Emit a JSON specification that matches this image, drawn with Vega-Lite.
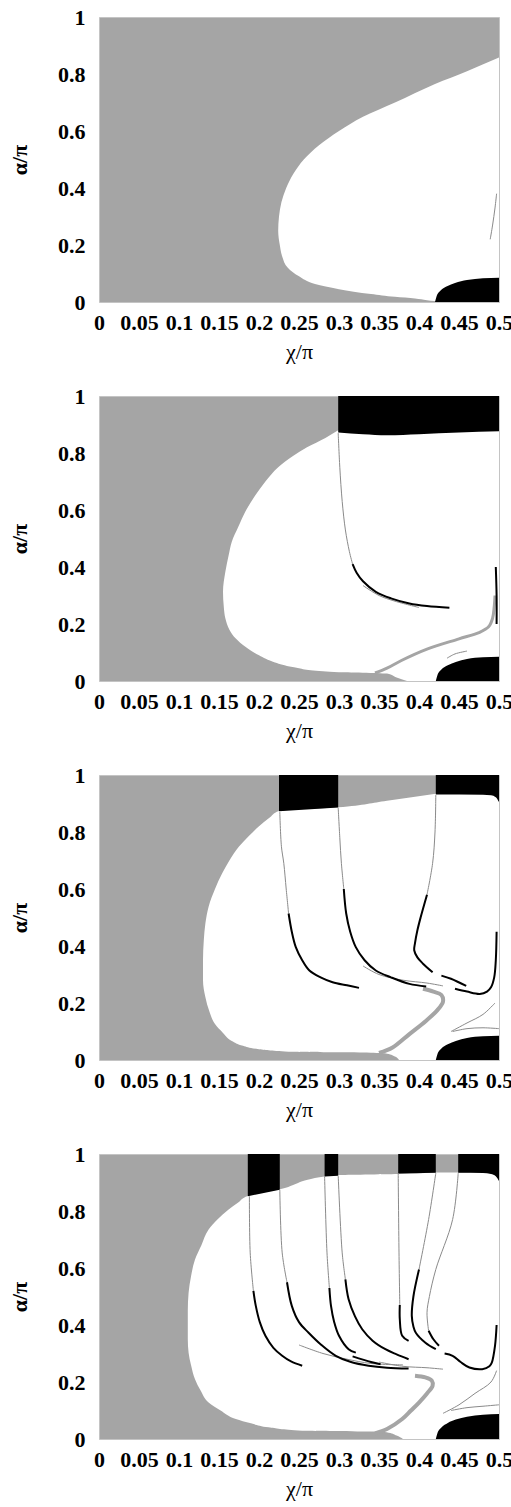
{
"$schema": "https://vega.github.io/schema/vega-lite/v6.json",
"padding": {"left": 8, "top": 5, "right": 2, "bottom": 2},
"data": {"values": [
{"p":1,"t":"w","y":0,"x":0.43},{"p":1,"t":"w","y":0.006,"x":0.41},{"p":1,"t":"w","y":0.012,"x":0.395},{"p":1,"t":"w","y":0.018,"x":0.37},{"p":1,"t":"w","y":0.028,"x":0.34},{"p":1,"t":"w","y":0.045,"x":0.3},{"p":1,"t":"w","y":0.063,"x":0.27},{"p":1,"t":"w","y":0.09,"x":0.25},{"p":1,"t":"w","y":0.12,"x":0.236},{"p":1,"t":"w","y":0.16,"x":0.229},{"p":1,"t":"w","y":0.2,"x":0.226},{"p":1,"t":"w","y":0.25,"x":0.224},{"p":1,"t":"w","y":0.3,"x":0.225},{"p":1,"t":"w","y":0.35,"x":0.228},{"p":1,"t":"w","y":0.4,"x":0.234},{"p":1,"t":"w","y":0.45,"x":0.243},{"p":1,"t":"w","y":0.5,"x":0.256},{"p":1,"t":"w","y":0.55,"x":0.275},{"p":1,"t":"w","y":0.6,"x":0.3},{"p":1,"t":"w","y":0.65,"x":0.33},{"p":1,"t":"w","y":0.7,"x":0.37},{"p":1,"t":"w","y":0.765,"x":0.42},{"p":1,"t":"w","y":0.81,"x":0.46},{"p":1,"t":"w","y":0.858,"x":0.5},
{"p":1,"t":"b","g":"e","x":0.42,"y":0,"y2":0},{"p":1,"t":"b","g":"e","x":0.422,"y":0.02,"y2":0},{"p":1,"t":"b","g":"e","x":0.427,"y":0.04,"y2":0},{"p":1,"t":"b","g":"e","x":0.435,"y":0.055,"y2":0},{"p":1,"t":"b","g":"e","x":0.445,"y":0.067,"y2":0},{"p":1,"t":"b","g":"e","x":0.46,"y":0.077,"y2":0},{"p":1,"t":"b","g":"e","x":0.48,"y":0.083,"y2":0},{"p":1,"t":"b","g":"e","x":0.5,"y":0.085,"y2":0},
{"p":1,"t":"f","g":"f1","x":0.489,"y":0.22},{"p":1,"t":"f","g":"f1","x":0.492,"y":0.27},{"p":1,"t":"f","g":"f1","x":0.495,"y":0.33},{"p":1,"t":"f","g":"f1","x":0.497,"y":0.38},

{"p":2,"t":"w","y":0,"x":0.385},{"p":2,"t":"w","y":0.012,"x":0.372},{"p":2,"t":"w","y":0.026,"x":0.36},{"p":2,"t":"w","y":0.031,"x":0.3},{"p":2,"t":"w","y":0.034,"x":0.28},{"p":2,"t":"w","y":0.049,"x":0.242},{"p":2,"t":"w","y":0.065,"x":0.22},{"p":2,"t":"w","y":0.09,"x":0.2},{"p":2,"t":"w","y":0.12,"x":0.183},{"p":2,"t":"w","y":0.149,"x":0.171},{"p":2,"t":"w","y":0.18,"x":0.163},{"p":2,"t":"w","y":0.219,"x":0.158},{"p":2,"t":"w","y":0.26,"x":0.156},{"p":2,"t":"w","y":0.313,"x":0.155},{"p":2,"t":"w","y":0.384,"x":0.158},{"p":2,"t":"w","y":0.44,"x":0.162},{"p":2,"t":"w","y":0.489,"x":0.166},{"p":2,"t":"w","y":0.54,"x":0.174},{"p":2,"t":"w","y":0.595,"x":0.183},{"p":2,"t":"w","y":0.65,"x":0.195},{"p":2,"t":"w","y":0.7,"x":0.208},{"p":2,"t":"w","y":0.75,"x":0.224},{"p":2,"t":"w","y":0.789,"x":0.242},{"p":2,"t":"w","y":0.82,"x":0.26},{"p":2,"t":"w","y":0.853,"x":0.283},{"p":2,"t":"w","y":0.88,"x":0.299},
{"p":2,"t":"b","g":"r","x":0.299,"y":0.872,"y2":1},{"p":2,"t":"b","g":"r","x":0.33,"y":0.866,"y2":1},{"p":2,"t":"b","g":"r","x":0.36,"y":0.862,"y2":1},{"p":2,"t":"b","g":"r","x":0.4,"y":0.866,"y2":1},{"p":2,"t":"b","g":"r","x":0.45,"y":0.872,"y2":1},{"p":2,"t":"b","g":"r","x":0.5,"y":0.876,"y2":1},
{"p":2,"t":"b","g":"e","x":0.421,"y":0,"y2":0},{"p":2,"t":"b","g":"e","x":0.423,"y":0.02,"y2":0},{"p":2,"t":"b","g":"e","x":0.428,"y":0.04,"y2":0},{"p":2,"t":"b","g":"e","x":0.436,"y":0.055,"y2":0},{"p":2,"t":"b","g":"e","x":0.446,"y":0.067,"y2":0},{"p":2,"t":"b","g":"e","x":0.46,"y":0.077,"y2":0},{"p":2,"t":"b","g":"e","x":0.48,"y":0.083,"y2":0},{"p":2,"t":"b","g":"e","x":0.5,"y":0.085,"y2":0},
{"p":2,"t":"s","g":"s1","x":0.345,"y":0.028},{"p":2,"t":"s","g":"s1","x":0.36,"y":0.045},{"p":2,"t":"s","g":"s1","x":0.378,"y":0.072},{"p":2,"t":"s","g":"s1","x":0.41,"y":0.112},{"p":2,"t":"s","g":"s1","x":0.45,"y":0.148},{"p":2,"t":"s","g":"s1","x":0.475,"y":0.17},{"p":2,"t":"s","g":"s1","x":0.487,"y":0.19},{"p":2,"t":"s","g":"s1","x":0.492,"y":0.22},{"p":2,"t":"s","g":"s1","x":0.494,"y":0.26},{"p":2,"t":"s","g":"s1","x":0.495,"y":0.3},
{"p":2,"t":"c","g":"c1","x":0.317,"y":0.41},{"p":2,"t":"c","g":"c1","x":0.322,"y":0.38},{"p":2,"t":"c","g":"c1","x":0.33,"y":0.35},{"p":2,"t":"c","g":"c1","x":0.346,"y":0.313},{"p":2,"t":"c","g":"c1","x":0.365,"y":0.29},{"p":2,"t":"c","g":"c1","x":0.388,"y":0.272},{"p":2,"t":"c","g":"c1","x":0.41,"y":0.263},{"p":2,"t":"c","g":"c1","x":0.438,"y":0.257},
{"p":2,"t":"c","g":"c2","x":0.497,"y":0.2},{"p":2,"t":"c","g":"c2","x":0.497,"y":0.3},{"p":2,"t":"c","g":"c2","x":0.496,"y":0.4},
{"p":2,"t":"f","g":"f1","x":0.299,"y":0.87},{"p":2,"t":"f","g":"f1","x":0.301,"y":0.75},{"p":2,"t":"f","g":"f1","x":0.304,"y":0.63},{"p":2,"t":"f","g":"f1","x":0.308,"y":0.53},{"p":2,"t":"f","g":"f1","x":0.313,"y":0.454},{"p":2,"t":"f","g":"f1","x":0.317,"y":0.41},
{"p":2,"t":"f","g":"f2","x":0.33,"y":0.335},{"p":2,"t":"f","g":"f2","x":0.35,"y":0.3},{"p":2,"t":"f","g":"f2","x":0.37,"y":0.28},{"p":2,"t":"f","g":"f2","x":0.4,"y":0.258},
{"p":2,"t":"f","g":"f3","x":0.435,"y":0.08},{"p":2,"t":"f","g":"f3","x":0.445,"y":0.095},{"p":2,"t":"f","g":"f3","x":0.46,"y":0.105},

{"p":3,"t":"w","y":0,"x":0.375},{"p":3,"t":"w","y":0.012,"x":0.37},{"p":3,"t":"w","y":0.022,"x":0.36},{"p":3,"t":"w","y":0.027,"x":0.3},{"p":3,"t":"w","y":0.029,"x":0.242},{"p":3,"t":"w","y":0.038,"x":0.2},{"p":3,"t":"w","y":0.05,"x":0.18},{"p":3,"t":"w","y":0.067,"x":0.166},{"p":3,"t":"w","y":0.095,"x":0.155},{"p":3,"t":"w","y":0.126,"x":0.145},{"p":3,"t":"w","y":0.17,"x":0.138},{"p":3,"t":"w","y":0.22,"x":0.133},{"p":3,"t":"w","y":0.28,"x":0.13},{"p":3,"t":"w","y":0.349,"x":0.13},{"p":3,"t":"w","y":0.42,"x":0.131},{"p":3,"t":"w","y":0.48,"x":0.133},{"p":3,"t":"w","y":0.538,"x":0.137},{"p":3,"t":"w","y":0.6,"x":0.145},{"p":3,"t":"w","y":0.655,"x":0.154},{"p":3,"t":"w","y":0.7,"x":0.163},{"p":3,"t":"w","y":0.749,"x":0.175},{"p":3,"t":"w","y":0.785,"x":0.187},{"p":3,"t":"w","y":0.82,"x":0.2},{"p":3,"t":"w","y":0.85,"x":0.213},{"p":3,"t":"w","y":0.874,"x":0.225},{"p":3,"t":"w","y":0.887,"x":0.299},{"p":3,"t":"w","y":0.91,"x":0.36},{"p":3,"t":"w","y":0.934,"x":0.421},
{"p":3,"t":"b","g":"r1","x":0.225,"y":0.873,"y2":1},{"p":3,"t":"b","g":"r1","x":0.299,"y":0.886,"y2":1},
{"p":3,"t":"b","g":"r2","x":0.421,"y":0.932,"y2":1},{"p":3,"t":"b","g":"r2","x":0.48,"y":0.931,"y2":1},{"p":3,"t":"b","g":"r2","x":0.49,"y":0.929,"y2":1},{"p":3,"t":"b","g":"r2","x":0.496,"y":0.922,"y2":1},{"p":3,"t":"b","g":"r2","x":0.5,"y":0.905,"y2":1},
{"p":3,"t":"b","g":"e","x":0.421,"y":0,"y2":0},{"p":3,"t":"b","g":"e","x":0.423,"y":0.02,"y2":0},{"p":3,"t":"b","g":"e","x":0.428,"y":0.04,"y2":0},{"p":3,"t":"b","g":"e","x":0.436,"y":0.055,"y2":0},{"p":3,"t":"b","g":"e","x":0.446,"y":0.067,"y2":0},{"p":3,"t":"b","g":"e","x":0.46,"y":0.077,"y2":0},{"p":3,"t":"b","g":"e","x":0.48,"y":0.083,"y2":0},{"p":3,"t":"b","g":"e","x":0.5,"y":0.085,"y2":0},
{"p":3,"t":"s","g":"s1","x":0.35,"y":0.025},{"p":3,"t":"s","g":"s1","x":0.367,"y":0.044},{"p":3,"t":"s","g":"s1","x":0.388,"y":0.091},{"p":3,"t":"s","g":"s1","x":0.409,"y":0.138},{"p":3,"t":"s","g":"s1","x":0.423,"y":0.175},{"p":3,"t":"s","g":"s1","x":0.43,"y":0.205},{"p":3,"t":"s","g":"s1","x":0.428,"y":0.228},{"p":3,"t":"s","g":"s1","x":0.418,"y":0.24},{"p":3,"t":"s","g":"s1","x":0.405,"y":0.25},
{"p":3,"t":"c","g":"cA","x":0.237,"y":0.514},{"p":3,"t":"c","g":"cA","x":0.241,"y":0.45},{"p":3,"t":"c","g":"cA","x":0.246,"y":0.396},{"p":3,"t":"c","g":"cA","x":0.254,"y":0.35},{"p":3,"t":"c","g":"cA","x":0.263,"y":0.314},{"p":3,"t":"c","g":"cA","x":0.277,"y":0.29},{"p":3,"t":"c","g":"cA","x":0.292,"y":0.273},{"p":3,"t":"c","g":"cA","x":0.31,"y":0.262},{"p":3,"t":"c","g":"cA","x":0.325,"y":0.253},
{"p":3,"t":"c","g":"cB","x":0.306,"y":0.6},{"p":3,"t":"c","g":"cB","x":0.309,"y":0.514},{"p":3,"t":"c","g":"cB","x":0.314,"y":0.45},{"p":3,"t":"c","g":"cB","x":0.321,"y":0.396},{"p":3,"t":"c","g":"cB","x":0.332,"y":0.35},{"p":3,"t":"c","g":"cB","x":0.346,"y":0.314},{"p":3,"t":"c","g":"cB","x":0.365,"y":0.29},{"p":3,"t":"c","g":"cB","x":0.388,"y":0.267},{"p":3,"t":"c","g":"cB","x":0.409,"y":0.258},
{"p":3,"t":"c","g":"cC","x":0.41,"y":0.58},{"p":3,"t":"c","g":"cC","x":0.402,"y":0.5},{"p":3,"t":"c","g":"cC","x":0.398,"y":0.455},{"p":3,"t":"c","g":"cC","x":0.395,"y":0.41},{"p":3,"t":"c","g":"cC","x":0.394,"y":0.385},{"p":3,"t":"c","g":"cC","x":0.398,"y":0.36},{"p":3,"t":"c","g":"cC","x":0.405,"y":0.338},{"p":3,"t":"c","g":"cC","x":0.417,"y":0.308},
{"p":3,"t":"c","g":"cD","x":0.428,"y":0.296},{"p":3,"t":"c","g":"cD","x":0.44,"y":0.285},{"p":3,"t":"c","g":"cD","x":0.459,"y":0.26},
{"p":3,"t":"c","g":"cE","x":0.445,"y":0.25},{"p":3,"t":"c","g":"cE","x":0.46,"y":0.24},{"p":3,"t":"c","g":"cE","x":0.476,"y":0.232},{"p":3,"t":"c","g":"cE","x":0.485,"y":0.24},{"p":3,"t":"c","g":"cE","x":0.49,"y":0.255},{"p":3,"t":"c","g":"cE","x":0.494,"y":0.29},{"p":3,"t":"c","g":"cE","x":0.496,"y":0.35},{"p":3,"t":"c","g":"cE","x":0.497,"y":0.45},
{"p":3,"t":"f","g":"fA","x":0.226,"y":0.87},{"p":3,"t":"f","g":"fA","x":0.228,"y":0.75},{"p":3,"t":"f","g":"fA","x":0.231,"y":0.69},{"p":3,"t":"f","g":"fA","x":0.234,"y":0.6},{"p":3,"t":"f","g":"fA","x":0.237,"y":0.514},
{"p":3,"t":"f","g":"fB","x":0.299,"y":0.885},{"p":3,"t":"f","g":"fB","x":0.301,"y":0.78},{"p":3,"t":"f","g":"fB","x":0.303,"y":0.69},{"p":3,"t":"f","g":"fB","x":0.306,"y":0.6},
{"p":3,"t":"f","g":"fC","x":0.421,"y":0.93},{"p":3,"t":"f","g":"fC","x":0.42,"y":0.8},{"p":3,"t":"f","g":"fC","x":0.417,"y":0.69},{"p":3,"t":"f","g":"fC","x":0.41,"y":0.58},
{"p":3,"t":"f","g":"fD","x":0.33,"y":0.33},{"p":3,"t":"f","g":"fD","x":0.35,"y":0.3},{"p":3,"t":"f","g":"fD","x":0.38,"y":0.28},{"p":3,"t":"f","g":"fD","x":0.41,"y":0.27},{"p":3,"t":"f","g":"fD","x":0.43,"y":0.26},
{"p":3,"t":"f","g":"fE","x":0.44,"y":0.1},{"p":3,"t":"f","g":"fE","x":0.46,"y":0.13},{"p":3,"t":"f","g":"fE","x":0.48,"y":0.16},{"p":3,"t":"f","g":"fE","x":0.495,"y":0.2},
{"p":3,"t":"f","g":"fF","x":0.442,"y":0.1},{"p":3,"t":"f","g":"fF","x":0.46,"y":0.11},{"p":3,"t":"f","g":"fF","x":0.48,"y":0.113},{"p":3,"t":"f","g":"fF","x":0.5,"y":0.11},

{"p":4,"t":"w","y":0,"x":0.38},{"p":4,"t":"w","y":0.012,"x":0.372},{"p":4,"t":"w","y":0.022,"x":0.362},{"p":4,"t":"w","y":0.026,"x":0.34},{"p":4,"t":"w","y":0.029,"x":0.254},{"p":4,"t":"w","y":0.041,"x":0.212},{"p":4,"t":"w","y":0.055,"x":0.19},{"p":4,"t":"w","y":0.07,"x":0.171},{"p":4,"t":"w","y":0.1,"x":0.152},{"p":4,"t":"w","y":0.128,"x":0.137},{"p":4,"t":"w","y":0.17,"x":0.127},{"p":4,"t":"w","y":0.21,"x":0.12},{"p":4,"t":"w","y":0.26,"x":0.115},{"p":4,"t":"w","y":0.303,"x":0.112},{"p":4,"t":"w","y":0.35,"x":0.111},{"p":4,"t":"w","y":0.397,"x":0.111},{"p":4,"t":"w","y":0.45,"x":0.111},{"p":4,"t":"w","y":0.513,"x":0.112},{"p":4,"t":"w","y":0.57,"x":0.115},{"p":4,"t":"w","y":0.63,"x":0.12},{"p":4,"t":"w","y":0.68,"x":0.128},{"p":4,"t":"w","y":0.735,"x":0.137},{"p":4,"t":"w","y":0.77,"x":0.148},{"p":4,"t":"w","y":0.805,"x":0.162},{"p":4,"t":"w","y":0.83,"x":0.174},{"p":4,"t":"w","y":0.853,"x":0.186},{"p":4,"t":"w","y":0.876,"x":0.226},{"p":4,"t":"w","y":0.921,"x":0.282},{"p":4,"t":"w","y":0.926,"x":0.299},{"p":4,"t":"w","y":0.93,"x":0.374},{"p":4,"t":"w","y":0.935,"x":0.421},
{"p":4,"t":"b","g":"r1","x":0.186,"y":0.852,"y2":1},{"p":4,"t":"b","g":"r1","x":0.226,"y":0.875,"y2":1},
{"p":4,"t":"b","g":"r2","x":0.282,"y":0.921,"y2":1},{"p":4,"t":"b","g":"r2","x":0.299,"y":0.924,"y2":1},
{"p":4,"t":"b","g":"r3","x":0.374,"y":0.932,"y2":1},{"p":4,"t":"b","g":"r3","x":0.421,"y":0.934,"y2":1},
{"p":4,"t":"b","g":"r4","x":0.449,"y":0.934,"y2":1},{"p":4,"t":"b","g":"r4","x":0.48,"y":0.933,"y2":1},{"p":4,"t":"b","g":"r4","x":0.49,"y":0.93,"y2":1},{"p":4,"t":"b","g":"r4","x":0.496,"y":0.922,"y2":1},{"p":4,"t":"b","g":"r4","x":0.5,"y":0.905,"y2":1},
{"p":4,"t":"b","g":"e","x":0.421,"y":0,"y2":0},{"p":4,"t":"b","g":"e","x":0.423,"y":0.02,"y2":0},{"p":4,"t":"b","g":"e","x":0.428,"y":0.04,"y2":0},{"p":4,"t":"b","g":"e","x":0.436,"y":0.056,"y2":0},{"p":4,"t":"b","g":"e","x":0.446,"y":0.068,"y2":0},{"p":4,"t":"b","g":"e","x":0.46,"y":0.078,"y2":0},{"p":4,"t":"b","g":"e","x":0.48,"y":0.085,"y2":0},{"p":4,"t":"b","g":"e","x":0.5,"y":0.0875,"y2":0},
{"p":4,"t":"s","g":"s1","x":0.345,"y":0.02},{"p":4,"t":"s","g":"s1","x":0.36,"y":0.035},{"p":4,"t":"s","g":"s1","x":0.379,"y":0.07},{"p":4,"t":"s","g":"s1","x":0.39,"y":0.1},{"p":4,"t":"s","g":"s1","x":0.4,"y":0.128},{"p":4,"t":"s","g":"s1","x":0.41,"y":0.16},{"p":4,"t":"s","g":"s1","x":0.417,"y":0.187},{"p":4,"t":"s","g":"s1","x":0.416,"y":0.205},{"p":4,"t":"s","g":"s1","x":0.408,"y":0.216},{"p":4,"t":"s","g":"s1","x":0.395,"y":0.222},
{"p":4,"t":"c","g":"C1","x":0.193,"y":0.52},{"p":4,"t":"c","g":"C1","x":0.196,"y":0.467},{"p":4,"t":"c","g":"C1","x":0.201,"y":0.41},{"p":4,"t":"c","g":"C1","x":0.208,"y":0.362},{"p":4,"t":"c","g":"C1","x":0.218,"y":0.32},{"p":4,"t":"c","g":"C1","x":0.229,"y":0.292},{"p":4,"t":"c","g":"C1","x":0.24,"y":0.272},{"p":4,"t":"c","g":"C1","x":0.254,"y":0.257},
{"p":4,"t":"c","g":"C2","x":0.235,"y":0.55},{"p":4,"t":"c","g":"C2","x":0.241,"y":0.467},{"p":4,"t":"c","g":"C2","x":0.25,"y":0.41},{"p":4,"t":"c","g":"C2","x":0.262,"y":0.373},{"p":4,"t":"c","g":"C2","x":0.278,"y":0.33},{"p":4,"t":"c","g":"C2","x":0.296,"y":0.292},{"p":4,"t":"c","g":"C2","x":0.315,"y":0.27},{"p":4,"t":"c","g":"C2","x":0.337,"y":0.257},{"p":4,"t":"c","g":"C2","x":0.36,"y":0.25},{"p":4,"t":"c","g":"C2","x":0.387,"y":0.247},
{"p":4,"t":"c","g":"C3","x":0.288,"y":0.53},{"p":4,"t":"c","g":"C3","x":0.29,"y":0.467},{"p":4,"t":"c","g":"C3","x":0.294,"y":0.41},{"p":4,"t":"c","g":"C3","x":0.3,"y":0.362},{"p":4,"t":"c","g":"C3","x":0.312,"y":0.315},{"p":4,"t":"c","g":"C3","x":0.321,"y":0.303},
{"p":4,"t":"c","g":"C3b","x":0.317,"y":0.29},{"p":4,"t":"c","g":"C3b","x":0.34,"y":0.27},{"p":4,"t":"c","g":"C3b","x":0.352,"y":0.262},
{"p":4,"t":"c","g":"C4","x":0.308,"y":0.56},{"p":4,"t":"c","g":"C4","x":0.312,"y":0.49},{"p":4,"t":"c","g":"C4","x":0.32,"y":0.43},{"p":4,"t":"c","g":"C4","x":0.329,"y":0.385},{"p":4,"t":"c","g":"C4","x":0.342,"y":0.345},{"p":4,"t":"c","g":"C4","x":0.358,"y":0.315},{"p":4,"t":"c","g":"C4","x":0.372,"y":0.297},{"p":4,"t":"c","g":"C4","x":0.387,"y":0.28},
{"p":4,"t":"c","g":"C5","x":0.376,"y":0.47},{"p":4,"t":"c","g":"C5","x":0.376,"y":0.42},{"p":4,"t":"c","g":"C5","x":0.379,"y":0.362},{"p":4,"t":"c","g":"C5","x":0.387,"y":0.344},
{"p":4,"t":"c","g":"C6","x":0.4,"y":0.595},{"p":4,"t":"c","g":"C6","x":0.393,"y":0.5},{"p":4,"t":"c","g":"C6","x":0.391,"y":0.432},{"p":4,"t":"c","g":"C6","x":0.393,"y":0.395},{"p":4,"t":"c","g":"C6","x":0.396,"y":0.373},{"p":4,"t":"c","g":"C6","x":0.408,"y":0.338},{"p":4,"t":"c","g":"C6","x":0.421,"y":0.315},
{"p":4,"t":"c","g":"C7","x":0.412,"y":0.38},{"p":4,"t":"c","g":"C7","x":0.418,"y":0.35},{"p":4,"t":"c","g":"C7","x":0.425,"y":0.327},
{"p":4,"t":"c","g":"C8","x":0.432,"y":0.3},{"p":4,"t":"c","g":"C8","x":0.442,"y":0.292},{"p":4,"t":"c","g":"C8","x":0.452,"y":0.27},{"p":4,"t":"c","g":"C8","x":0.463,"y":0.251},{"p":4,"t":"c","g":"C8","x":0.479,"y":0.245},{"p":4,"t":"c","g":"C8","x":0.488,"y":0.255},{"p":4,"t":"c","g":"C8","x":0.491,"y":0.268},{"p":4,"t":"c","g":"C8","x":0.495,"y":0.327},{"p":4,"t":"c","g":"C8","x":0.497,"y":0.4},
{"p":4,"t":"f","g":"F1","x":0.188,"y":0.852},{"p":4,"t":"f","g":"F1","x":0.189,"y":0.653},{"p":4,"t":"f","g":"F1","x":0.193,"y":0.52},
{"p":4,"t":"f","g":"F2","x":0.226,"y":0.875},{"p":4,"t":"f","g":"F2","x":0.229,"y":0.653},{"p":4,"t":"f","g":"F2","x":0.235,"y":0.55},
{"p":4,"t":"f","g":"F3","x":0.282,"y":0.922},{"p":4,"t":"f","g":"F3","x":0.285,"y":0.653},{"p":4,"t":"f","g":"F3","x":0.288,"y":0.53},
{"p":4,"t":"f","g":"F4","x":0.299,"y":0.924},{"p":4,"t":"f","g":"F4","x":0.304,"y":0.653},{"p":4,"t":"f","g":"F4","x":0.308,"y":0.56},
{"p":4,"t":"f","g":"F5","x":0.374,"y":0.933},{"p":4,"t":"f","g":"F5","x":0.375,"y":0.653},{"p":4,"t":"f","g":"F5","x":0.376,"y":0.47},
{"p":4,"t":"f","g":"F6","x":0.421,"y":0.933},{"p":4,"t":"f","g":"F6","x":0.412,"y":0.77},{"p":4,"t":"f","g":"F6","x":0.4,"y":0.595},
{"p":4,"t":"f","g":"F7","x":0.449,"y":0.933},{"p":4,"t":"f","g":"F7","x":0.442,"y":0.77},{"p":4,"t":"f","g":"F7","x":0.421,"y":0.595},{"p":4,"t":"f","g":"F7","x":0.413,"y":0.5},{"p":4,"t":"f","g":"F7","x":0.41,"y":0.443},{"p":4,"t":"f","g":"F7","x":0.412,"y":0.38},
{"p":4,"t":"f","g":"F8","x":0.25,"y":0.33},{"p":4,"t":"f","g":"F8","x":0.28,"y":0.3},{"p":4,"t":"f","g":"F8","x":0.31,"y":0.28},{"p":4,"t":"f","g":"F8","x":0.34,"y":0.265},{"p":4,"t":"f","g":"F8","x":0.38,"y":0.26},
{"p":4,"t":"f","g":"F9","x":0.35,"y":0.27},{"p":4,"t":"f","g":"F9","x":0.38,"y":0.255},{"p":4,"t":"f","g":"F9","x":0.41,"y":0.25},{"p":4,"t":"f","g":"F9","x":0.43,"y":0.245},
{"p":4,"t":"f","g":"F10","x":0.43,"y":0.09},{"p":4,"t":"f","g":"F10","x":0.45,"y":0.12},{"p":4,"t":"f","g":"F10","x":0.47,"y":0.16},{"p":4,"t":"f","g":"F10","x":0.49,"y":0.2},{"p":4,"t":"f","g":"F10","x":0.497,"y":0.24},
{"p":4,"t":"f","g":"F11","x":0.44,"y":0.1},{"p":4,"t":"f","g":"F11","x":0.46,"y":0.11},{"p":4,"t":"f","g":"F11","x":0.48,"y":0.115},{"p":4,"t":"f","g":"F11","x":0.5,"y":0.12}
]},
"spacing": 21,
"vconcat": [
 {"transform": [{"filter": "datum.p === 1"}], "width": 400, "height": 285,
  "encoding": {
    "x": {"field": "x", "type": "quantitative", "title": "χ/π", "scale": {"domain": [0, 0.5], "nice": false, "zero": false}, "axis": {"values": [0, 0.05, 0.1, 0.15, 0.2, 0.25, 0.3, 0.35, 0.4, 0.45, 0.5]}},
    "y": {"field": "y", "type": "quantitative", "title": "α/π", "scale": {"domain": [0, 1], "nice": false, "zero": false}, "axis": {"values": [0, 0.2, 0.4, 0.6, 0.8, 1]}}
  },
  "layer": [
    {"transform": [{"filter": "datum.t === 'w'"}], "mark": {"type": "area", "orient": "horizontal", "color": "#ffffff", "interpolate": "monotone", "clip": true}, "encoding": {"x2": {"datum": 0.5}}},
    {"transform": [{"filter": "datum.t === 'b'"}], "mark": {"type": "area", "color": "#000000", "interpolate": "monotone", "clip": true}, "encoding": {"y2": {"field": "y2"}, "detail": {"field": "g"}}},
    {"transform": [{"filter": "datum.t === 'f'"}, {"window": [{"op": "row_number", "as": "o"}]}], "mark": {"type": "line", "color": "#8a8a8a", "strokeWidth": 1, "interpolate": "catmull-rom", "clip": true}, "encoding": {"detail": {"field": "g"}, "order": {"field": "o", "type": "quantitative"}}}
  ]},
 {"transform": [{"filter": "datum.p === 2"}], "width": 400, "height": 285,
  "encoding": {
    "x": {"field": "x", "type": "quantitative", "title": "χ/π", "scale": {"domain": [0, 0.5], "nice": false, "zero": false}, "axis": {"values": [0, 0.05, 0.1, 0.15, 0.2, 0.25, 0.3, 0.35, 0.4, 0.45, 0.5]}},
    "y": {"field": "y", "type": "quantitative", "title": "α/π", "scale": {"domain": [0, 1], "nice": false, "zero": false}, "axis": {"values": [0, 0.2, 0.4, 0.6, 0.8, 1]}}
  },
  "layer": [
    {"transform": [{"filter": "datum.t === 'w'"}], "mark": {"type": "area", "orient": "horizontal", "color": "#ffffff", "interpolate": "monotone", "clip": true}, "encoding": {"x2": {"datum": 0.5}}},
    {"transform": [{"filter": "datum.t === 'b'"}], "mark": {"type": "area", "color": "#000000", "interpolate": "monotone", "clip": true}, "encoding": {"y2": {"field": "y2"}, "detail": {"field": "g"}}},
    {"transform": [{"filter": "datum.t === 's'"}, {"window": [{"op": "row_number", "as": "o"}]}], "mark": {"type": "line", "color": "#a5a5a5", "strokeWidth": 3, "interpolate": "catmull-rom", "clip": true}, "encoding": {"detail": {"field": "g"}, "order": {"field": "o", "type": "quantitative"}}},
    {"transform": [{"filter": "datum.t === 'f'"}, {"window": [{"op": "row_number", "as": "o"}]}], "mark": {"type": "line", "color": "#8a8a8a", "strokeWidth": 1, "interpolate": "catmull-rom", "clip": true}, "encoding": {"detail": {"field": "g"}, "order": {"field": "o", "type": "quantitative"}}},
    {"transform": [{"filter": "datum.t === 'c'"}, {"window": [{"op": "row_number", "as": "o"}]}], "mark": {"type": "line", "color": "#000000", "strokeWidth": 2, "interpolate": "catmull-rom", "clip": true}, "encoding": {"detail": {"field": "g"}, "order": {"field": "o", "type": "quantitative"}}}
  ]},
 {"transform": [{"filter": "datum.p === 3"}], "width": 400, "height": 285,
  "encoding": {
    "x": {"field": "x", "type": "quantitative", "title": "χ/π", "scale": {"domain": [0, 0.5], "nice": false, "zero": false}, "axis": {"values": [0, 0.05, 0.1, 0.15, 0.2, 0.25, 0.3, 0.35, 0.4, 0.45, 0.5]}},
    "y": {"field": "y", "type": "quantitative", "title": "α/π", "scale": {"domain": [0, 1], "nice": false, "zero": false}, "axis": {"values": [0, 0.2, 0.4, 0.6, 0.8, 1]}}
  },
  "layer": [
    {"transform": [{"filter": "datum.t === 'w'"}], "mark": {"type": "area", "orient": "horizontal", "color": "#ffffff", "interpolate": "monotone", "clip": true}, "encoding": {"x2": {"datum": 0.5}}},
    {"transform": [{"filter": "datum.t === 'b'"}], "mark": {"type": "area", "color": "#000000", "interpolate": "monotone", "clip": true}, "encoding": {"y2": {"field": "y2"}, "detail": {"field": "g"}}},
    {"transform": [{"filter": "datum.t === 's'"}, {"window": [{"op": "row_number", "as": "o"}]}], "mark": {"type": "line", "color": "#a5a5a5", "strokeWidth": 4, "interpolate": "catmull-rom", "clip": true}, "encoding": {"detail": {"field": "g"}, "order": {"field": "o", "type": "quantitative"}}},
    {"transform": [{"filter": "datum.t === 'f'"}, {"window": [{"op": "row_number", "as": "o"}]}], "mark": {"type": "line", "color": "#8a8a8a", "strokeWidth": 1, "interpolate": "catmull-rom", "clip": true}, "encoding": {"detail": {"field": "g"}, "order": {"field": "o", "type": "quantitative"}}},
    {"transform": [{"filter": "datum.t === 'c'"}, {"window": [{"op": "row_number", "as": "o"}]}], "mark": {"type": "line", "color": "#000000", "strokeWidth": 2, "interpolate": "catmull-rom", "clip": true}, "encoding": {"detail": {"field": "g"}, "order": {"field": "o", "type": "quantitative"}}}
  ]},
 {"transform": [{"filter": "datum.p === 4"}], "width": 400, "height": 285,
  "encoding": {
    "x": {"field": "x", "type": "quantitative", "title": "χ/π", "scale": {"domain": [0, 0.5], "nice": false, "zero": false}, "axis": {"values": [0, 0.05, 0.1, 0.15, 0.2, 0.25, 0.3, 0.35, 0.4, 0.45, 0.5]}},
    "y": {"field": "y", "type": "quantitative", "title": "α/π", "scale": {"domain": [0, 1], "nice": false, "zero": false}, "axis": {"values": [0, 0.2, 0.4, 0.6, 0.8, 1]}}
  },
  "layer": [
    {"transform": [{"filter": "datum.t === 'w'"}], "mark": {"type": "area", "orient": "horizontal", "color": "#ffffff", "interpolate": "monotone", "clip": true}, "encoding": {"x2": {"datum": 0.5}}},
    {"transform": [{"filter": "datum.t === 'b'"}], "mark": {"type": "area", "color": "#000000", "interpolate": "monotone", "clip": true}, "encoding": {"y2": {"field": "y2"}, "detail": {"field": "g"}}},
    {"transform": [{"filter": "datum.t === 's'"}, {"window": [{"op": "row_number", "as": "o"}]}], "mark": {"type": "line", "color": "#a5a5a5", "strokeWidth": 4, "interpolate": "catmull-rom", "clip": true}, "encoding": {"detail": {"field": "g"}, "order": {"field": "o", "type": "quantitative"}}},
    {"transform": [{"filter": "datum.t === 'f'"}, {"window": [{"op": "row_number", "as": "o"}]}], "mark": {"type": "line", "color": "#8a8a8a", "strokeWidth": 1, "interpolate": "catmull-rom", "clip": true}, "encoding": {"detail": {"field": "g"}, "order": {"field": "o", "type": "quantitative"}}},
    {"transform": [{"filter": "datum.t === 'c'"}, {"window": [{"op": "row_number", "as": "o"}]}], "mark": {"type": "line", "color": "#000000", "strokeWidth": 2, "interpolate": "catmull-rom", "clip": true}, "encoding": {"detail": {"field": "g"}, "order": {"field": "o", "type": "quantitative"}}}
  ]}
],
"config": {
  "view": {"fill": "#a5a5a5", "stroke": "#c4c4c4", "strokeWidth": 1},
  "axis": {"grid": false, "domain": false, "ticks": false, "labelFont": "Liberation Serif", "labelFontWeight": "bold", "labelColor": "#000000", "titleFont": "Liberation Serif", "titleColor": "#000000", "labelExpr": "toString(datum.value)", "labelOverlap": false, "labelFlush": false, "labelFontSize": 22, "titleFontSize": 22},
  "axisX": {"labelPadding": 10, "titleFontWeight": "normal", "titlePadding": 8},
  "axisY": {"labelPadding": 14, "titleFontWeight": "bold", "titlePadding": 26}
}
}
